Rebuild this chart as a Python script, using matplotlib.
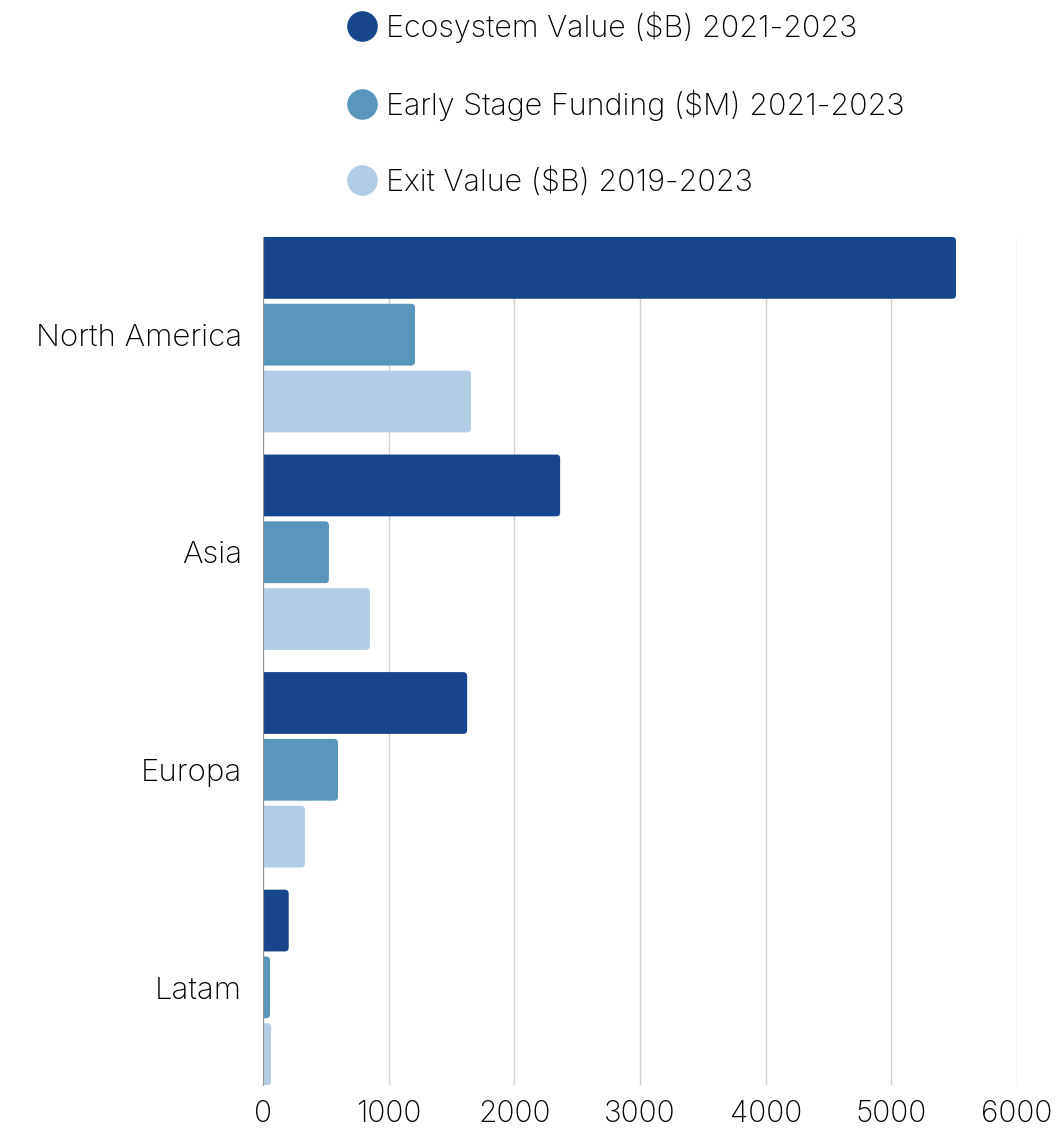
import numpy as np
import matplotlib
matplotlib.use("Agg")
import matplotlib.pyplot as plt
from matplotlib.patches import FancyBboxPatch
from matplotlib.lines import Line2D

# data
regions = ["North America", "Asia", "Europa", "Latam"]
ecosystem = [5515, 2365, 1625, 205]
early_stage = [1210, 525, 597, 56]
exit_value = [1655, 851, 334, 64]
series_names = ["Ecosystem Value ($B) 2021-2023",
                "Early Stage Funding ($M) 2021-2023",
                "Exit Value ($B) 2019-2023"]
colors = ["#17468c", "#5996bc", "#b2cde5"]
xticks = [0, 1000, 2000, 3000, 4000, 5000, 6000]

plt.rcParams['font.family'] = ['Inter', 'DejaVu Sans']
plt.rcParams['font.weight'] = 'light'

fig = plt.figure(figsize=(10.62, 11.28), dpi=100)
ax = fig.add_axes([0.2476, 0.0381, 0.71, 0.7518])

y = np.arange(len(regions))
step = 0.307
h = 0.284
series = [ecosystem, early_stage, exit_value]

for i, vals in enumerate(series):
    bars = ax.barh(y + (i - 1) * step, vals, height=h, color=colors[i], alpha=0)
    for b in bars:
        # rounded bar drawn over the invisible one, starting left of 0 so left corners get clipped
        x0 = -60
        w = b.get_width() - x0
        fp = FancyBboxPatch((x0, b.get_y()), w, b.get_height(),
                            boxstyle="round,pad=0,rounding_size=32",
                            mutation_aspect=0.018 / 32,
                            facecolor=colors[i], edgecolor="none", zorder=3)
        ax.add_patch(fp)

ax.set_xlim(0, 6000)
ax.set_ylim(3 + step + h / 2, -step - h / 2)
ax.set_yticks(y)
ax.set_yticklabels(regions, fontsize=22.5)
ax.set_xticks(xticks)
ax.set_xticklabels([str(t) for t in xticks], fontsize=21.5)
ax.tick_params(length=0, pad=11)
ax.tick_params(axis='y', pad=15)
ax.grid(axis='x', color='#d0d0d0', linewidth=1)
ax.set_axisbelow(True)
for s in ['top', 'right', 'bottom']:
    ax.spines[s].set_visible(False)
ax.spines['left'].set_color('#999999')
ax.spines['left'].set_zorder(4)

handles = [Line2D([], [], marker='o', linestyle='none', markersize=21,
                  markerfacecolor=c, markeredgecolor=c) for c in colors]
fig.legend(handles, series_names, loc='upper left', bbox_to_anchor=(0.303, 1.009),
           frameon=False, fontsize=22, labelspacing=1.52, handletextpad=0.2,
           handlelength=1.2, borderaxespad=0.3)

fig.savefig("out.png", dpi=100, facecolor="white")
